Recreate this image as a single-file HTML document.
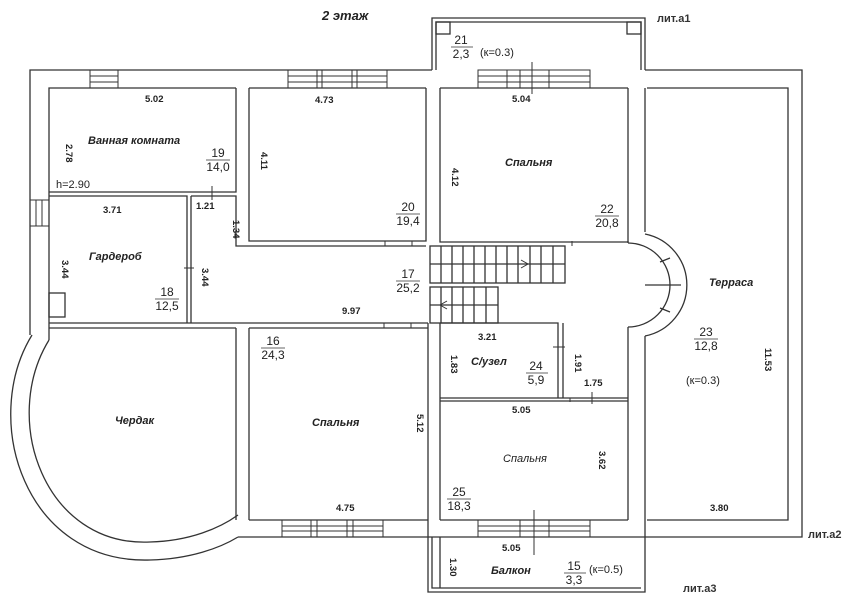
<!DOCTYPE html>
<html><head><meta charset="utf-8"><style>
html,body{margin:0;padding:0;background:#fff}
svg{display:block}
text{font-family:"Liberation Sans",sans-serif;fill:#222}
.l{font-size:11px;font-style:italic;font-weight:bold}
.d{font-size:9.5px;font-weight:bold;fill:#333}
.n{font-size:12px}
</style></head><body>
<svg width="852" height="600" viewBox="0 0 852 600" xmlns="http://www.w3.org/2000/svg">
<g fill="none" stroke="#333" stroke-width="1.3">
<path d="M30,335 L30,70 L432,70 M645,70 L802,70 L802,537 L238,537"/>
<path d="M49,340 L49,88 L236,88 M249,88 L426,88 M440,88 L628,88 M647,88 L788,88 L788,520 L647,520 M628,520 L440,520 M428,520 L249,520"/>
<path d="M32,335 C -20,420 25,564 150,560 C 190,559 220,548 238,537"/>
<path d="M49,340 C 0,420 45,547 150,542 C 190,541 220,528 238,515"/>
<path d="M432,70 L432,18 L645,18 L645,70 M436,70 L436,22 L641,22 L641,70"/>
<rect x="436" y="22" width="14" height="12"/><rect x="627" y="22" width="14" height="12"/>
<path d="M236,88 L236,192 L49,192 M49,196 L187,196 L187,323 M191,196 L191,323 M191,196 L236,196 L236,246 L426,246 M249,88 L249,241 L426,241 L426,88 M440,88 L440,242 L628,242 L628,88 M645,88 L645,232"/>
<path d="M645,234 A52,52 0 0 1 645,336"/>
<path d="M628,243 A42,42 0 0 1 628,327"/>
<path d="M660,262 L670,258 M660,308 L670,312 M645,285 L681,285"/>
<path d="M49,323 L428,323 M49,328 L236,328 M249,328 L428,328 M428,323 L428,537 M440,323 L440,520 M440,323 L558,323 L558,398 M563,323 L563,398 M440,398 L628,398 M440,401 L628,401 M236,328 L236,520 M249,328 L249,520 M628,327 L628,520 M645,336 L645,537 M628,243 L628,241"/>
<rect x="430" y="246" width="135" height="37"/>
<rect x="430" y="287" width="68" height="36"/>
<path d="M441,246v37M452,246v37M463,246v37M474,246v37M485,246v37M496,246v37M507,246v37M518,246v37M530,246v37M541,246v37M553,246v37 M430,264H565 M441,287v36M452,287v36M463,287v36M474,287v36M486,287v36 M430,305H498"/>
<path d="M432,264 L528,264 M521,260 L528,264 L521,268" stroke-width="1"/>
<path d="M440,305 L490,305 M447,301 L440,305 L447,309" stroke-width="1"/>
<path d="M428,537 L428,592 L645,592 L645,537 M432,537 L432,588 L641,588 M440,537 L440,588"/>
<rect x="49" y="293" width="16" height="24"/>
<g stroke-width="1">
<rect x="90" y="70" width="28" height="18"/><path d="M90,76H118M90,82H118"/>
<rect x="288" y="70" width="29" height="18"/><rect x="322" y="70" width="30" height="18"/><rect x="357" y="70" width="30" height="18"/><path d="M288,76H387M288,82H387"/>
<rect x="478" y="70" width="112" height="18"/><path d="M478,76H590M478,82H590M507,70v18M520,70v18M549,70v18"/>
<rect x="30" y="200" width="19" height="26"/><path d="M36,200v26M42,200v26"/>
<rect x="282" y="520" width="29" height="17"/><rect x="317" y="520" width="30" height="17"/><rect x="353" y="520" width="30" height="17"/><path d="M282,526H383M282,531H383"/>
<rect x="478" y="520" width="112" height="17"/><path d="M478,526H590M478,531H590M520,520v17M549,520v17"/>
<path d="M212,186v14 M184,268h10 M385,241v5 M412,241v5 M572,241v5 M384,323v5 M411,323v5 M532,62v32 M534,510v45 M592,392v12 M553,347h12 M570,398v4"/>
</g>
</g>
<text x="322" y="20" class="l" style="font-size:13px">2 этаж</text>
<text x="657" y="22" class="d" style="font-size:11px">лит.а1</text>
<text x="808" y="538" class="d" style="font-size:11px">лит.а2</text>
<text x="683" y="592" class="d" style="font-size:11px">лит.а3</text>
<text x="88" y="144" class="l">Ванная комната</text>
<text x="89" y="260" class="l">Гардероб</text>
<text x="115" y="424" class="l">Чердак</text>
<text x="312" y="426" class="l">Спальня</text>
<text x="505" y="166" class="l">Спальня</text>
<text x="503" y="462" class="l" style="font-weight:normal">Спальня</text>
<text x="709" y="286" class="l">Терраса</text>
<text x="471" y="365" class="l">С/узел</text>
<text x="491" y="574" class="l">Балкон</text>
<g class="n" text-anchor="middle">
<text x="218" y="157">19</text><text x="218" y="171">14,0</text><path d="M206,160h24" stroke="#333" stroke-width="0.8"/>
<text x="167" y="296">18</text><text x="167" y="310">12,5</text><path d="M155,299h24" stroke="#333" stroke-width="0.8"/>
<text x="408" y="211">20</text><text x="408" y="225">19,4</text><path d="M396,214h24" stroke="#333" stroke-width="0.8"/>
<text x="607" y="213">22</text><text x="607" y="227">20,8</text><path d="M595,216h24" stroke="#333" stroke-width="0.8"/>
<text x="408" y="278">17</text><text x="408" y="292">25,2</text><path d="M396,281h24" stroke="#333" stroke-width="0.8"/>
<text x="273" y="345">16</text><text x="273" y="359">24,3</text><path d="M261,348h24" stroke="#333" stroke-width="0.8"/>
<text x="706" y="336">23</text><text x="706" y="350">12,8</text><path d="M694,339h24" stroke="#333" stroke-width="0.8"/>
<text x="536" y="370">24</text><text x="536" y="384">5,9</text><path d="M526,373h22" stroke="#333" stroke-width="0.8"/>
<text x="459" y="496">25</text><text x="459" y="510">18,3</text><path d="M447,499h24" stroke="#333" stroke-width="0.8"/>
<text x="574" y="570">15</text><text x="574" y="584">3,3</text><path d="M564,573h22" stroke="#333" stroke-width="0.8"/>
<text x="461" y="44">21</text><text x="461" y="58">2,3</text><path d="M451,47h22" stroke="#333" stroke-width="0.8"/>
</g>
<text x="480" y="56" class="n" style="font-size:11px">(к=0.3)</text>
<text x="686" y="384" class="n" style="font-size:11px">(к=0.3)</text>
<text x="589" y="573" class="n" style="font-size:11px">(к=0.5)</text>
<text x="56" y="188" class="n" style="font-size:11px">h=2.90</text>
<g class="d">
<text x="145" y="102">5.02</text>
<text x="315" y="103">4.73</text>
<text x="512" y="102">5.04</text>
<text x="103" y="213">3.71</text>
<text x="196" y="209">1.21</text>
<text x="342" y="314">9.97</text>
<text x="478" y="340">3.21</text>
<text x="584" y="386">1.75</text>
<text x="512" y="413">5.05</text>
<text x="336" y="511">4.75</text>
<text x="710" y="511">3.80</text>
<text x="502" y="551">5.05</text>
</g>
<g class="d">
<text transform="translate(66,152) rotate(90)" x="-8" y="0">2.78</text>
<text transform="translate(62,268) rotate(90)" x="-8" y="0">3.44</text>
<text transform="translate(202,276) rotate(90)" x="-8" y="0">3.44</text>
<text transform="translate(233,228) rotate(90)" x="-8" y="0">1.34</text>
<text transform="translate(261,160) rotate(90)" x="-8" y="0">4.11</text>
<text transform="translate(452,176) rotate(90)" x="-8" y="0">4.12</text>
<text transform="translate(417,422) rotate(90)" x="-8" y="0">5.12</text>
<text transform="translate(451,363) rotate(90)" x="-8" y="0">1.83</text>
<text transform="translate(575,362) rotate(90)" x="-8" y="0">1.91</text>
<text transform="translate(599,459) rotate(90)" x="-8" y="0">3.62</text>
<text transform="translate(765,356) rotate(90)" x="-8" y="0">11.53</text>
<text transform="translate(450,566) rotate(90)" x="-8" y="0">1.30</text>
</g>
</svg>
</body></html>
